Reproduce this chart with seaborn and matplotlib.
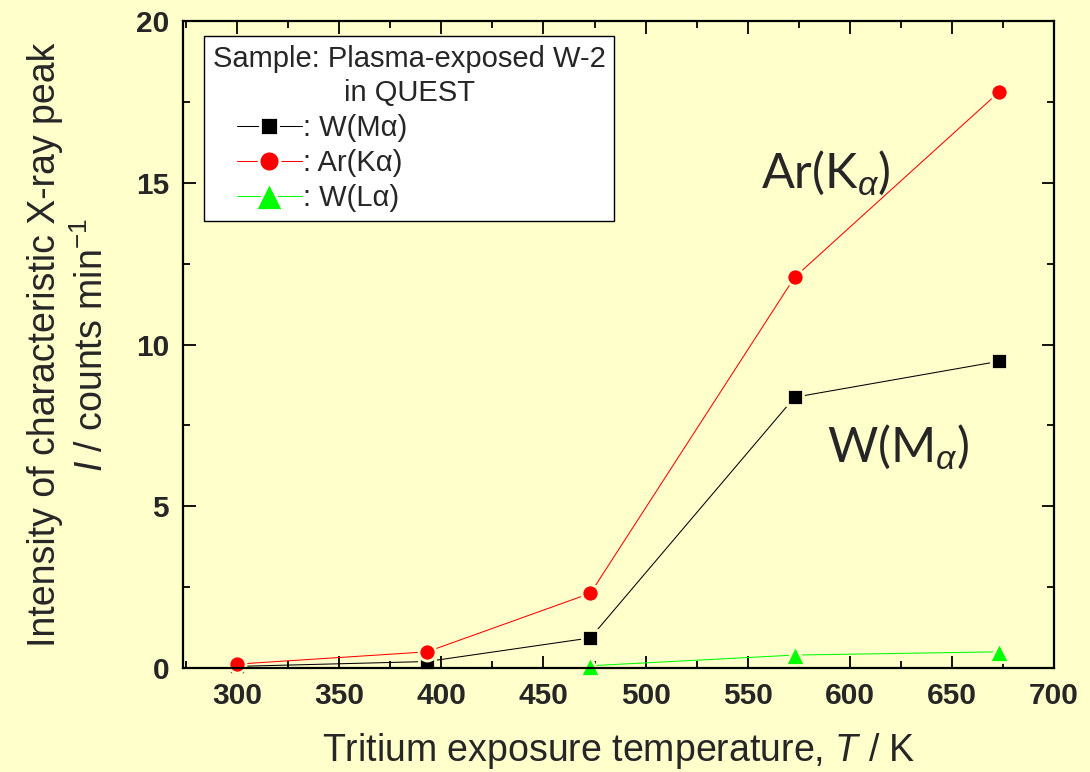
import numpy as np
import pandas as pd
import seaborn as sns
import matplotlib
matplotlib.use("Agg")
import matplotlib.pyplot as plt
from matplotlib.lines import Line2D
from matplotlib.legend_handler import HandlerLine2D
from matplotlib.ticker import MultipleLocator

# Tritium exposure temperatures (K) and characteristic X-ray peak intensities (counts/min)
temperature = [300, 393, 473, 573, 673]
w_m_alpha = [0.05, 0.2, 0.93, 8.37, 9.48]
ar_k_alpha = [0.12, 0.5, 2.31, 12.08, 17.8]
temperature_l = [473, 573, 673]
w_l_alpha = [0.07, 0.4, 0.5]

series_labels = [": W(M\u03b1)", ": Ar(K\u03b1)", ": W(L\u03b1)"]
x_ticks = [300, 350, 400, 450, 500, 550, 600, 650, 700]
y_ticks = [0, 5, 10, 15, 20]

BG = "#FFFFCC"

sns.set_theme(style="ticks", rc={"figure.facecolor": BG, "axes.facecolor": BG})
plt.rcParams["font.family"] = ["Liberation Sans", "DejaVu Sans"]
plt.rcParams["mathtext.fontset"] = "custom"
plt.rcParams["mathtext.rm"] = "Liberation Sans"
plt.rcParams["mathtext.it"] = "Liberation Sans:italic"
plt.rcParams["mathtext.bf"] = "Liberation Sans:bold"

fig = plt.figure(figsize=(10.9, 7.72), dpi=100, facecolor=BG)
L, R, T, B = 183 / 1090, 1054 / 1090, 21 / 772, 668 / 772
ax = fig.add_axes([L, 1 - B, R - L, B - T])
ax.set_facecolor(BG)

df_w = pd.DataFrame({"T": temperature, "I": w_m_alpha})
df_ar = pd.DataFrame({"T": temperature, "I": ar_k_alpha})
df_wl = pd.DataFrame({"T": temperature_l, "I": w_l_alpha})

common = dict(ax=ax, linewidth=0.75, markeredgecolor=BG, markeredgewidth=2.0,
              clip_on=False, legend=False, sort=False, errorbar=None)
sns.lineplot(data=df_w, x="T", y="I", color="black", marker="s", markersize=11.1, **common)
sns.lineplot(data=df_ar, x="T", y="I", color="#FF0000", marker="o", markersize=12.3, **common)
sns.lineplot(data=df_wl, x="T", y="I", color="#00FF00", marker="^", markersize=15.0, **common)

ax.set_xlim(273.5, 700)
ax.set_ylim(0, 20)
ax.xaxis.set_major_locator(MultipleLocator(50))
ax.xaxis.set_minor_locator(MultipleLocator(25))
ax.yaxis.set_major_locator(MultipleLocator(5))
ax.yaxis.set_minor_locator(MultipleLocator(2.5))
ax.set_xticks(x_ticks)
ax.set_yticks(y_ticks)

for s in ax.spines.values():
    s.set_visible(True)
    s.set_linewidth(1.6)
    s.set_color("black")

ax.tick_params(which="both", direction="in", top=True, right=True,
               color="black", width=1.3)
ax.tick_params(which="major", length=9, pad=10, labelsize=21.5)
ax.tick_params(which="minor", length=5)
for lab in ax.get_xticklabels() + ax.get_yticklabels():
    lab.set_fontweight("bold")

ax.set_xlabel("Tritium exposure temperature, $T$ / K", fontsize=27)
ax.xaxis.set_label_coords(0.5, -0.097)
ax.set_ylabel("Intensity of characteristic X-ray peak\n$I$ / counts min$^{-1}$",
              fontsize=27, linespacing=1.35)
ax.yaxis.set_label_coords(-0.083, 0.5)

ax.text(556.4, 14.84, "Ar(K$_{\\alpha}$)", ha="left", va="baseline",
        family="Lato", fontsize=35)
ax.text(588.7, 6.37, "W(M$_{\\alpha}$)", ha="left", va="baseline",
        family="Lato", fontsize=35)


class ShiftedLineHandler(HandlerLine2D):
    """Line handler that leaves blank space at the left of the handle box."""

    def __init__(self, shift, **kw):
        super().__init__(**kw)
        self.shift = shift

    def get_xdata(self, legend, xdescent, ydescent, width, height, fontsize):
        xd, xm = super().get_xdata(legend, xdescent, ydescent,
                                   width - self.shift, height, fontsize)
        return np.asarray(xd) + self.shift, np.asarray(xm) + self.shift


handles = [
    Line2D([], [], color="black", lw=0.75, marker="s", ms=13.5,
           mfc="black", mec="white", mew=2),
    Line2D([], [], color="#FF0000", lw=0.75, marker="o", ms=15.0,
           mfc="#FF0000", mec="white", mew=2),
    Line2D([], [], color="#00FF00", lw=0.75, marker="^", ms=19.5,
           mfc="#00FF00", mec="white", mew=2),
]
leg = ax.legend(handles, series_labels,
                title="Sample: Plasma-exposed W-2\nin QUEST",
                loc="upper left", bbox_to_anchor=(0.024, 0.977),
                borderaxespad=0, fontsize=21, title_fontsize=21,
                frameon=True, fancybox=False, edgecolor="black",
                facecolor="white", framealpha=1, shadow=False,
                handlelength=3.05, handletextpad=0.05, labelspacing=0.24,
                borderpad=0.3, alignment="left", numpoints=1,
                handler_map={Line2D: ShiftedLineHandler(17.3)})
leg.get_frame().set_linewidth(1.0)
leg.get_title().set_multialignment("center")
leg.get_title().set_linespacing(1.3)

fig.savefig("out.png", dpi=100, facecolor=BG)
